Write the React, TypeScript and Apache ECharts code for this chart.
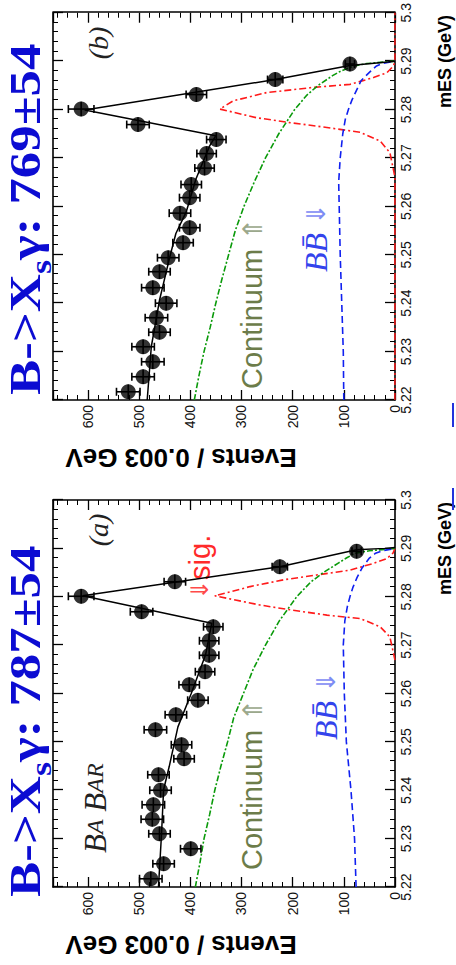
import React, { useEffect, useRef } from "react";
import * as echarts from "echarts";

// Original (unrotated) canvas; the whole figure is shown rotated 90° counter-clockwise.
const W = 965;
const H = 456;

// ---- data (mES in GeV, events per 0.003 GeV) ----
const mesBins = [5.2217, 5.2248, 5.2279, 5.231, 5.234, 5.237, 5.24, 5.2432, 5.2465, 5.2494, 5.2525, 5.2556, 5.2586, 5.2618, 5.2645, 5.2679, 5.2709, 5.2738, 5.2769, 5.2801, 5.2831, 5.2862, 5.2894];
const eventsA = [477, 452, 399, 460, 474, 472, 458, 462, 412, 417, 468, 428, 385, 402, 371, 363, 363, 355, 495, 613, 430, 225, 75];
const errorsA = [22, 21, 20, 21, 22, 22, 21, 21, 20, 20, 22, 21, 20, 20, 19, 19, 19, 19, 22, 25, 21, 15, 9];
const eventsB = [521, 492, 473, 492, 460, 466, 447, 473, 460, 443, 414, 401, 420, 401, 398, 372, 368, 349, 502, 613, 388, 234, 88];
const errorsB = [23, 22, 22, 22, 21, 22, 21, 22, 21, 21, 20, 20, 21, 20, 20, 19, 19, 19, 22, 25, 20, 15, 9];

const fitMesA = [5.22, 5.231, 5.2401, 5.2449, 5.2531, 5.26, 5.268, 5.2745, 5.2802, 5.2862, 5.2897, 5.29, 5.2902];
const fitA = [462, 456, 452, 441, 424, 398, 370, 358, 610, 225, 75, 20, 0];
const fitMesB = [5.22, 5.231, 5.2406, 5.2495, 5.2544, 5.2588, 5.2656, 5.2725, 5.2746, 5.2799, 5.2862, 5.2891, 5.2898, 5.29];
const fitB = [484, 476, 460, 440, 428, 408, 389, 362, 350, 606, 234, 88, 15, 0];

const contMes = [5.22, 5.225, 5.23, 5.235, 5.24, 5.245, 5.25, 5.255, 5.26, 5.265, 5.27, 5.275, 5.28, 5.283, 5.285, 5.287, 5.288, 5.289, 5.2895, 5.29];
const contA = [390, 381, 373, 362, 352, 340, 327, 315, 296, 277, 253, 226, 192, 165, 140, 110, 95, 78, 50, 0];
const contB = [392, 383, 373, 361, 350, 338, 325, 312, 295, 275, 253, 227, 196, 172, 150, 122, 105, 80, 55, 0];

const bbMes = [5.22, 5.23, 5.24, 5.25, 5.26, 5.265, 5.27, 5.275, 5.278, 5.28, 5.282, 5.284, 5.286, 5.288, 5.289, 5.2895, 5.29];
const bbA = [76, 79, 86, 95, 99, 100, 101, 98, 93, 88, 82, 74, 64, 50, 38, 25, 0];
const bbB = [100, 101, 104, 107, 109, 110, 107, 102, 97, 91, 84, 75, 66, 47, 36, 25, 0];

const sigMesA = [5.2669, 5.2717, 5.2738, 5.2755, 5.2762, 5.2773, 5.2783, 5.2802, 5.2821, 5.2835, 5.2845, 5.2855, 5.2869, 5.2879, 5.289, 5.29];
const sigA = [0, 10, 29, 68, 133, 205, 264, 352, 283, 218, 153, 88, 42, 16, 4, 0];
const sigMesB = [5.22, 5.266, 5.2711, 5.2735, 5.2753, 5.2763, 5.2773, 5.2783, 5.2801, 5.2818, 5.2835, 5.2845, 5.2852, 5.2866, 5.2876, 5.289, 5.29, 5.3];
const sigB = [0, 0, 10, 29, 68, 133, 205, 270, 342, 316, 251, 166, 88, 42, 16, 3, 0, 0];

const titleA = "787±54";
const titleB = "769±54";

const MES_MIN = 5.22;
const MES_MAX = 5.3;
const EV_MAX = 668;

const zip = (xs: number[], ys: number[]) => xs.map((x, i) => [x, ys[i]]);

const tickFont = "'Liberation Sans Narrow', 'Liberation Sans', Arial, sans-serif";

function xAxes(grid: number) {
  const common = {
    type: "value",
    gridIndex: grid,
    min: MES_MIN,
    max: MES_MAX,
    interval: 0.01,
    splitLine: { show: false },
    axisLine: { show: true, onZero: false, lineStyle: { color: "#000", width: 1.6 } },
    axisTick: { show: true, inside: true, length: 10, lineStyle: { color: "#000", width: 1.3 } },
    minorTick: { show: true, splitNumber: 5, length: 5, lineStyle: { color: "#000", width: 1 } },
  };
  return [
    {
      ...common,
      position: "bottom",
      axisLabel: {
        show: true,
        margin: 4,
        color: "#111",
        fontSize: 14,
        fontFamily: tickFont,
        formatter: (v: number) => (Math.abs(v - 5.3) < 1e-6 ? "5.3" : v.toFixed(2)),
      },
    },
    { ...common, position: "top", axisLabel: { show: false } },
  ];
}

function yAxes(grid: number) {
  const common = {
    type: "value",
    gridIndex: grid,
    min: 0,
    max: EV_MAX,
    interval: 100,
    splitLine: { show: false },
    axisLine: { show: true, onZero: false, lineStyle: { color: "#000", width: 1.6 } },
    axisTick: { show: true, inside: true, length: 10, lineStyle: { color: "#000", width: 1.3 } },
    minorTick: { show: true, splitNumber: 5, length: 5, lineStyle: { color: "#000", width: 1 } },
  };
  return [
    {
      ...common,
      position: "left",
      axisLabel: {
        show: true,
        margin: 5,
        color: "#111",
        fontSize: 14,
        fontFamily: tickFont,
        showMaxLabel: false,
        formatter: (v: number) => (v % 100 === 0 && v <= 600 ? String(v) : ""),
      },
    },
    { ...common, position: "right", axisLabel: { show: false } },
  ];
}

function panelSeries(
  p: number,
  ev: number[],
  err: number[],
  fitX: number[],
  fitY: number[],
  contY: number[],
  bbY: number[],
  sigX: number[],
  sigY: number[]
) {
  const axes = { xAxisIndex: 2 * p, yAxisIndex: 2 * p };
  return [
    {
      type: "line",
      ...axes,
      data: zip(sigX, sigY),
      symbol: "none",
      silent: true,
      lineStyle: { color: "#ff1a1a", width: 1.6, type: [7, 3, 2, 3] },
      z: 3,
    },
    {
      type: "line",
      ...axes,
      data: zip(contMes, contY),
      symbol: "none",
      silent: true,
      lineStyle: { color: "#0a9a0a", width: 1.6, type: [6, 2, 2, 2] },
      z: 3,
    },
    {
      type: "line",
      ...axes,
      data: zip(bbMes, bbY),
      symbol: "none",
      silent: true,
      lineStyle: { color: "#1020f0", width: 1.6, type: [7, 4] },
      z: 3,
    },
    {
      type: "line",
      ...axes,
      data: zip(fitX, fitY),
      symbol: "none",
      silent: true,
      lineStyle: { color: "#000", width: 1.5 },
      z: 4,
    },
    {
      type: "custom",
      ...axes,
      silent: true,
      z: 5,
      data: mesBins.map((m, i) => [m, ev[i], err[i]]),
      encode: { x: 0, y: 1 },
      renderItem: (_params: any, api: any) => {
        const x = api.value(0);
        const y = api.value(1);
        const e = api.value(2);
        const lo = api.coord([x, y - e]);
        const hi = api.coord([x, y + e]);
        const l = api.coord([x - 0.0015, y]);
        const r = api.coord([x + 0.0015, y]);
        const cap = 4;
        const st = { stroke: "#000", lineWidth: 1.6 };
        return {
          type: "group",
          children: [
            { type: "line", shape: { x1: lo[0], y1: lo[1], x2: hi[0], y2: hi[1] }, style: st },
            { type: "line", shape: { x1: lo[0] - cap, y1: lo[1], x2: lo[0] + cap, y2: lo[1] }, style: st },
            { type: "line", shape: { x1: hi[0] - cap, y1: hi[1], x2: hi[0] + cap, y2: hi[1] }, style: st },
            { type: "line", shape: { x1: l[0], y1: l[1], x2: r[0], y2: r[1] }, style: st },
          ],
        };
      },
    },
    {
      type: "scatter",
      ...axes,
      silent: true,
      z: 6,
      data: zip(mesBins, ev),
      symbol: "circle",
      symbolSize: 15,
      itemStyle: { color: "#000" },
    },
  ];
}

function titleText(x: number, value: string) {
  return {
    type: "text",
    x,
    y: 26,
    scaleX: 1.2,
    silent: true,
    style: {
      text: `{m|B->X}{s|s}{m|γ: ${value}}`,
      fill: "#0c0cd2",
      verticalAlign: "middle",
      align: "left",
      rich: {
        m: { fontSize: 44, fontWeight: "bold", fontFamily: "'Liberation Serif', serif", lineHeight: 60, fill: "#0c0cd2" },
        s: { fontSize: 30, fontWeight: "bold", fontFamily: "'Liberation Serif', serif", lineHeight: 60, verticalAlign: "bottom", fill: "#0c0cd2" },
      },
    },
  };
}

function labelTexts(offset: number, isA: boolean) {
  const els: any[] = [];
  els.push({
    type: "text",
    x: offset + (isA ? 17 : 11),
    y: 252,
    silent: true,
    style: {
      text: "{c|Continuum}{a| ⇑}",
      verticalAlign: "middle",
      rich: {
        c: { fontSize: 29, fontFamily: "'Liberation Sans', Arial, sans-serif", fill: "#6c7c4a" },
        a: { fontSize: 27, fontFamily: "'DejaVu Sans', sans-serif", fill: "#9ba88c" },
      },
    },
  });
  els.push({
    type: "text",
    x: offset + (isA ? 147 : 128),
    y: isA ? 326 : 316,
    silent: true,
    style: {
      text: "{b|BB̄}{a| ⇓}",
      verticalAlign: "middle",
      rich: {
        b: { fontSize: 32, fontStyle: "italic", fontFamily: "'Liberation Serif', serif", fill: "#3343ec" },
        a: { fontSize: 26, fontFamily: "'DejaVu Sans', sans-serif", fill: "#7d8cf4" },
      },
    },
  });
  els.push({
    type: "text",
    x: offset + (isA ? 357 : 357),
    y: 98,
    silent: true,
    style: {
      text: isA ? "(a)" : "(b)",
      align: "center",
      verticalAlign: "middle",
      font: "italic 28px 'Liberation Serif', serif",
      fill: "#222",
    },
  });
  els.push({
    type: "text",
    x: offset + 385,
    y: 445,
    silent: true,
    style: {
      text: "mES (GeV)",
      align: "right",
      verticalAlign: "middle",
      font: "bold 18px 'Liberation Sans', Arial, sans-serif",
      fill: "#000",
    },
  });
  els.push({
    type: "text",
    x: offset - 58,
    y: 181,
    rotation: Math.PI / 2,
    silent: true,
    style: {
      text: "Events / 0.003 GeV",
      align: "center",
      verticalAlign: "middle",
      font: "bold 26px 'Liberation Sans', Arial, sans-serif",
      fill: "#000",
    },
  });
  return els;
}

const gridA = { left: 78, top: 53, width: 387, height: 342 };
const gridB = { left: 565, top: 53, width: 388, height: 342 };

const option: any = {
  animation: false,
  backgroundColor: "#ffffff",
  grid: [gridA, gridB],
  xAxis: [...xAxes(0), ...xAxes(1)],
  yAxis: [...yAxes(0), ...yAxes(1)],
  series: [
    ...panelSeries(0, eventsA, errorsA, fitMesA, fitA, contA, bbA, sigMesA, sigA),
    ...panelSeries(1, eventsB, errorsB, fitMesB, fitB, contB, bbB, sigMesB, sigB),
  ],
  graphic: [
    titleText(68, titleA),
    titleText(570, titleB),
    ...labelTexts(78, true),
    ...labelTexts(565, false),
    {
      type: "text",
      x: 112,
      y: 95,
      silent: true,
      style: {
        text: "{b|B}{s|A}{b| B}{s|AR}",
        verticalAlign: "middle",
        rich: {
          b: { fontSize: 31, fontStyle: "italic", fontFamily: "'Liberation Serif', serif", fill: "#222" },
          s: { fontSize: 24, fontStyle: "italic", fontFamily: "'Liberation Serif', serif", fill: "#222" },
        },
      },
    },
    {
      type: "text",
      x: 365,
      y: 200,
      silent: true,
      style: {
        text: "{a|⇓}{s|sig.}",
        verticalAlign: "middle",
        rich: {
          a: { fontSize: 24, fontFamily: "'DejaVu Sans', sans-serif", fill: "#ff4a4a" },
          s: { fontSize: 29, fontFamily: "'Liberation Sans', Arial, sans-serif", fill: "#ff2a2a" },
        },
      },
    },
    { type: "line", silent: true, shape: { x1: 538, y1: 453, x2: 562, y2: 453 }, style: { stroke: "#2233dd", lineWidth: 2 } },
    { type: "line", silent: true, shape: { x1: 455, y1: 453, x2: 477, y2: 453 }, style: { stroke: "#2233dd", lineWidth: 2 } },
  ],
};

export default function App() {
  const ref = useRef<HTMLDivElement>(null);
  useEffect(() => {
    if (!ref.current) return;
    const chart = echarts.init(ref.current, null, { renderer: "svg", width: W, height: H });
    chart.setOption(option);
    return () => chart.dispose();
  }, []);
  return (
    <div
      style={{
        position: "fixed",
        left: 0,
        top: 0,
        width: 456,
        height: 965,
        overflow: "hidden",
        background: "#fff",
      }}
    >
      <div
        ref={ref}
        style={{
          position: "absolute",
          left: 0,
          top: 0,
          width: W,
          height: H,
          transformOrigin: "0 0",
          transform: `translate(0px, ${W}px) rotate(-90deg)`,
        }}
      />
    </div>
  );
}
